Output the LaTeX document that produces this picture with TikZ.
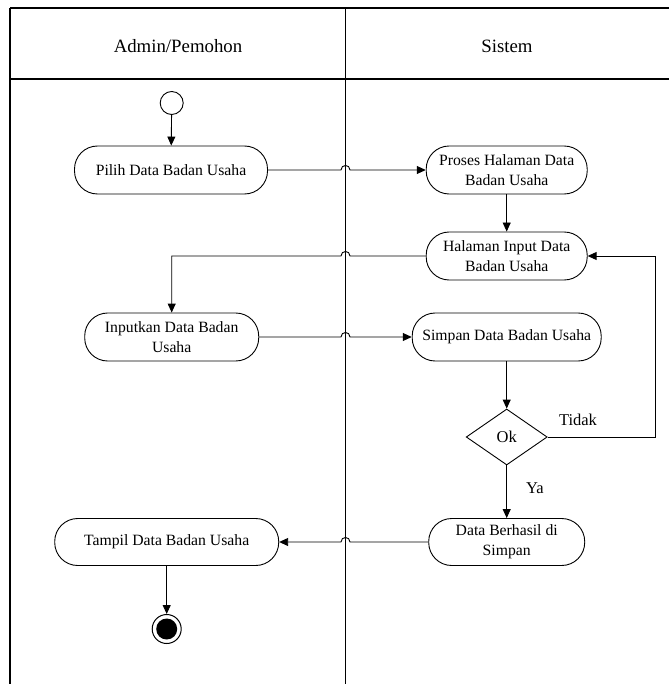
\documentclass[tikz,border=0pt]{standalone}
\usepackage{fontspec}
\setmainfont{Liberation Serif}
\usetikzlibrary{arrows.meta,shapes.geometric}
\begin{document}
\begin{tikzpicture}[x=1pt,y=-1pt,
  act/.style={draw,line width=0.9pt,rounded corners=23pt,minimum height=48pt,inner sep=2pt,align=center,font=\fontsize{15.7}{20}\selectfont},
  lane/.style={line width=1.3pt},
  conn/.style={line width=0.9pt},
  arr/.style={conn,-{Triangle[length=9pt,width=8pt]}},
  lbl/.style={font=\fontsize{16.5}{20}\selectfont,inner sep=0pt},
  hdr/.style={font=\fontsize{18.8}{22}\selectfont,inner sep=0pt}]
\useasboundingbox (0,0) rectangle (669,684);
% swimlanes
\draw[lane] (10,8) -- (669,8);
\draw[lane] (10,79) -- (669,79);
\draw[lane] (10,8) -- (10,684);
\draw[lane] (345.5,8) -- (345.5,684);
\node[hdr] (h1) at (178,46) {Admin/Pemohon};
\node[hdr] (h2) at (507,46) {Sistem};
% nodes
\node[circle,draw,line width=0.9pt,minimum size=23pt,inner sep=0pt] (start) at (171.7,103) {};
\node[act,minimum width=193pt] (pilih) at (171,170) {Pilih Data Badan Usaha};
\node[act,minimum width=161pt] (proses) at (506.7,170) {Proses Halaman Data\\Badan Usaha};
\node[act,minimum width=161pt] (halaman) at (506.7,256) {Halaman Input Data\\Badan Usaha};
\node[act,minimum width=174pt] (inputkan) at (171.7,337) {Inputkan Data Badan\\Usaha};
\node[act,minimum width=189pt] (simpan) at (506.7,337) {Simpan Data Badan Usaha};
\node[diamond,draw,line width=0.9pt,minimum width=81pt,minimum height=56pt,inner sep=0pt,font=\fontsize{16.5}{20}\selectfont] (ok) at (506.7,437) {Ok};
\node[act,minimum width=156pt,minimum height=47pt] (berhasil) at (506.7,542) {Data Berhasil di\\Simpan};
\node[act,minimum width=224pt,minimum height=47pt] (tampil) at (166.7,542) {Tampil Data Badan Usaha};
\node[circle,draw,line width=1pt,minimum size=29pt,inner sep=0pt] (end) at (166.7,629) {};
\node[circle,fill,minimum size=21pt,inner sep=0pt] (endin) at (end) {};
\coordinate (loop) at (655,256);
% labels
\node[lbl] (tidak) at (578,420) {Tidak};
\node[lbl] (ya) at (535,488) {Ya};
% connectors
\draw[arr] (start) -- (pilih);
\draw[arr] (pilih.east) -- (341,170) .. controls (341,164) and (350,164) .. (350,170) -- (proses.west);
\draw[arr] (proses) -- (halaman);
\draw[arr] (halaman.west) -- (350,256) .. controls (350,250) and (341,250) .. (341,256) -- (inputkan.north |- halaman.west) -- (inputkan.north);
\draw[arr] (inputkan.east) -- (341,337) .. controls (341,331) and (350,331) .. (350,337) -- (simpan.west);
\draw[arr] (simpan) -- (ok);
\draw[arr] (ok.east) -| (loop) -- (halaman.east);
\draw[arr] (ok) -- (berhasil);
\draw[arr] (berhasil.west) -- (350,542) .. controls (350,536) and (341,536) .. (341,542) -- (tampil.east);
\draw[arr] (tampil) -- (end);
\end{tikzpicture}
\end{document}
